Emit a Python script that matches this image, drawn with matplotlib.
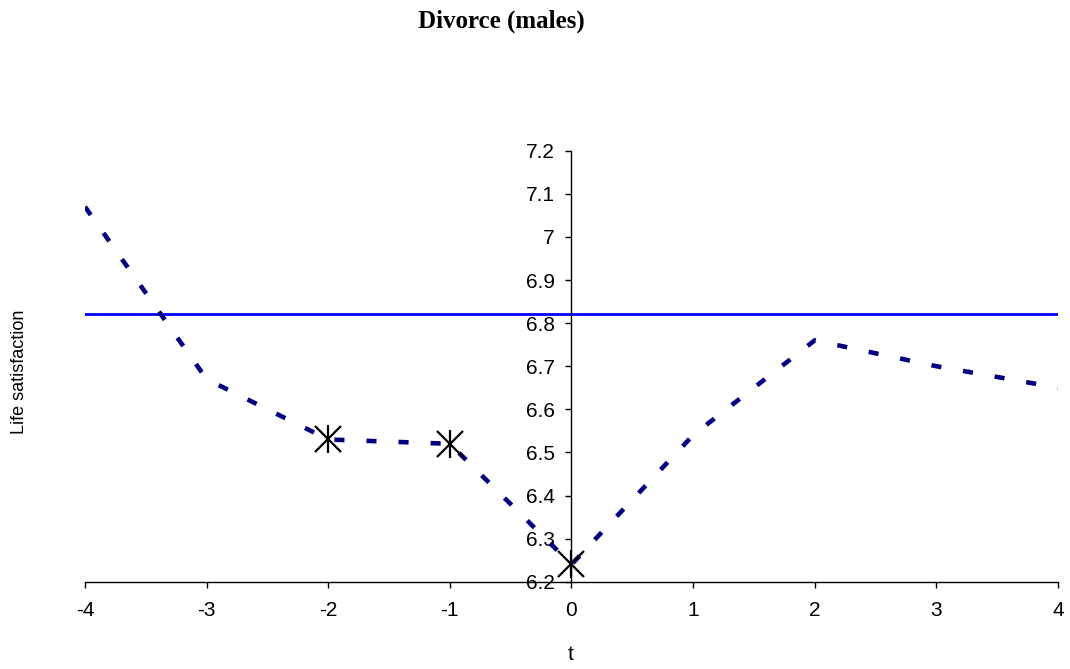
import matplotlib
matplotlib.use("Agg")
import matplotlib.pyplot as plt
from matplotlib.ticker import FuncFormatter

# data
t_values = [-4, -3, -2, -1, 0, 1, 2, 3, 4]
life_sat = [7.07, 6.67, 6.53, 6.52, 6.24, 6.54, 6.76, 6.70, 6.65]
significant = [False, False, True, True, True, False, False, False, False]
baseline = [6.82] * len(t_values)
y_ticks = [6.2, 6.3, 6.4, 6.5, 6.6, 6.7, 6.8, 6.9, 7.0, 7.1, 7.2]
x_ticks = [-4, -3, -2, -1, 0, 1, 2, 3, 4]

plt.rcParams["font.family"] = ["Liberation Sans", "DejaVu Sans"]
plt.rcParams["axes.unicode_minus"] = False

fig = plt.figure(figsize=(10.7, 6.69), dpi=100)
ax = fig.add_axes([0.0794, 0.1305, 0.9094, 0.6442])

# reference level
ax.plot(t_values, baseline, color="#0000FF", linewidth=2)

# main series
ax.plot(t_values, life_sat, color="#000080", linewidth=3.3,
        dashes=(2.2, 4.8), dash_capstyle="butt")

# star markers at significant points
sig_x = [x for x, s in zip(t_values, significant) if s]
sig_y = [y for y, s in zip(life_sat, significant) if s]
ax.plot(sig_x, sig_y, linestyle="none", marker="x", markersize=19,
        markeredgewidth=1.6, color="black", zorder=5)
ax.plot(sig_x, sig_y, linestyle="none", marker="|", markersize=20,
        markeredgewidth=1.6, color="black", zorder=5)

ax.set_xlim(-4, 4)
ax.set_ylim(6.2, 7.2)
ax.set_xticks(x_ticks)
ax.set_yticks(y_ticks)
ax.yaxis.set_major_formatter(FuncFormatter(lambda v, _: f"{v:g}"))

ax.spines["left"].set_position(("data", 0))
ax.spines["top"].set_visible(False)
ax.spines["right"].set_visible(False)
for side in ("left", "bottom"):
    ax.spines[side].set_linewidth(1.0)

ax.tick_params(axis="x", direction="out", length=4, width=1, pad=10,
               labelsize=15)
ax.tick_params(axis="y", direction="out", length=4, width=1, pad=8,
               labelsize=15)
ax.patch.set_visible(False)

fig.text(501.7 / 1070, 1 - 21 / 669, "Divorce (males)", ha="center",
         va="center", fontsize=18, fontweight="bold",
         family=["Liberation Serif", "DejaVu Serif"])
fig.text(20 / 1070, 1 - 372 / 669, "Life satisfaction", ha="center",
         va="center", rotation=90, fontsize=13)
fig.text(571 / 1070, 1 - 655 / 669, "t", ha="center", va="center",
         fontsize=15)

fig.savefig("out.png", dpi=100)
